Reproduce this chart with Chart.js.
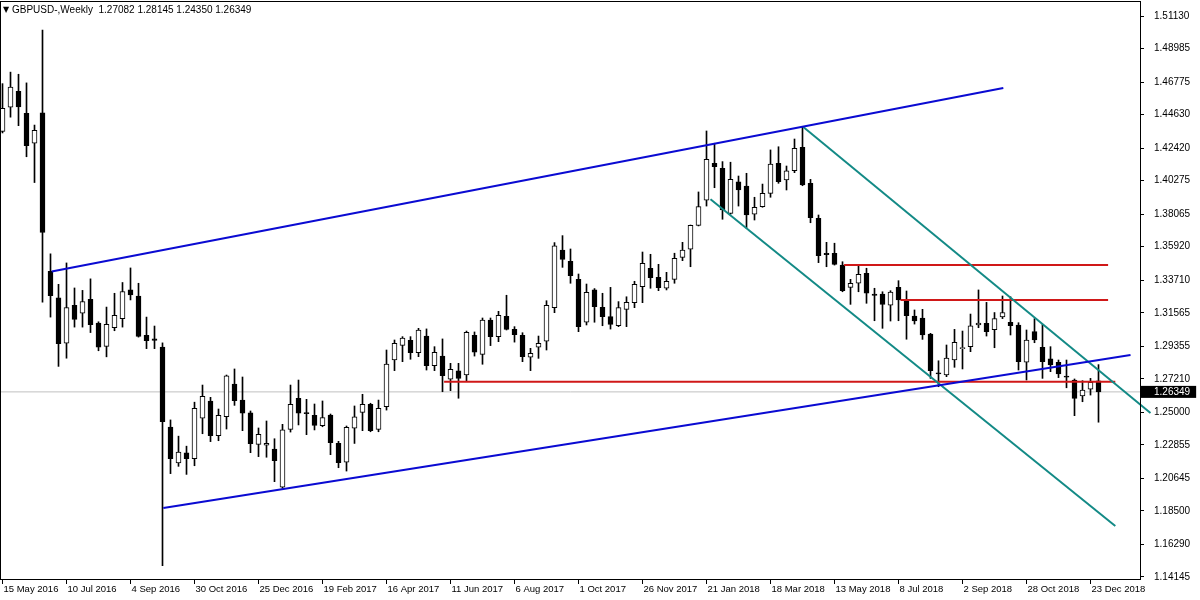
<!DOCTYPE html>
<html>
<head>
<meta charset="utf-8">
<script src="https://cdn.jsdelivr.net/npm/chart.js@4.4.1/dist/chart.umd.min.js"></script>
<style>
  html, body { margin: 0; padding: 0; background: #fff; }
  #wrap { position: relative; width: 1200px; height: 600px; }
  #header { position: absolute; left: 12px; top: 4px; font: 10px "Liberation Sans", Arial, sans-serif; color: #000; white-space: pre; }
  #tri { position: absolute; left: 3px; top: 5px; font: 8px "DejaVu Sans", sans-serif; color: #000; }
</style>
</head>
<body>
<div id="wrap">
  <canvas id="priceChart" width="1200" height="600"></canvas>
  <div id="tri">▼</div>
  <div id="header">GBPUSD-,Weekly  1.27082 1.28145 1.24350 1.26349</div>
</div>
<script>
// weekly bars, first one is week of 15 May 2016
const openP = [
  1.4352, 1.4512, 1.4616, 1.4472, 1.4274, 1.4474, 1.3429, 1.3255, 1.2956, 1.3205,
  1.3154, 1.3245, 1.3088, 1.2935, 1.3059, 1.3118, 1.3307, 1.3266, 1.3007, 1.2984,
  1.2930, 1.2403, 1.2167, 1.2233, 1.2195, 1.2461, 1.2575, 1.2346, 1.2471, 1.2687,
  1.2581, 1.2496, 1.2289, 1.2283, 1.2258, 1.2006, 1.2388, 1.2592, 1.2498, 1.2480,
  1.2412, 1.2482, 1.2296, 1.2171, 1.2395, 1.2500, 1.2553, 1.2388, 1.2537, 1.2845,
  1.2942, 1.2975, 1.2893, 1.3003, 1.2808, 1.2871, 1.2718, 1.2773, 1.2746, 1.3008,
  1.2882, 1.3109, 1.2999, 1.3133, 1.3047, 1.3008, 1.2863, 1.2929, 1.2969, 1.3190,
  1.3570, 1.3496, 1.3377, 1.3094, 1.3307, 1.3193, 1.3131, 1.3071, 1.3179, 1.3223,
  1.3328, 1.3450, 1.3390, 1.3318, 1.3377, 1.3522, 1.3575, 1.3733, 1.3898, 1.4142,
  1.4109, 1.3812, 1.4019, 1.3992, 1.3806, 1.3856, 1.3944, 1.4142, 1.4032, 1.4093,
  1.4247, 1.4010, 1.3779, 1.3549, 1.3549, 1.3471, 1.3324, 1.3351, 1.3417, 1.3280,
  1.3280, 1.3206, 1.3324, 1.3241, 1.3135, 1.3122, 1.3016, 1.2761, 1.2746, 1.2845,
  1.2920, 1.2933, 1.3076, 1.3087, 1.3045, 1.3129, 1.3094, 1.3076, 1.2830, 1.3032,
  1.2929, 1.2852, 1.2830, 1.2738, 1.2713, 1.2608, 1.2652, 1.27082
];
const highP = [
  1.4667, 1.4743, 1.4729, 1.4672, 1.4394, 1.5021, 1.3545, 1.3344, 1.3485, 1.3320,
  1.3304, 1.3380, 1.3097, 1.3194, 1.3285, 1.3356, 1.3452, 1.3351, 1.3128, 1.3069,
  1.2958, 1.2450, 1.2343, 1.2277, 1.2567, 1.2680, 1.2599, 1.2522, 1.2746, 1.2786,
  1.2733, 1.2509, 1.2397, 1.2443, 1.2326, 1.2421, 1.2680, 1.2713, 1.2586, 1.2555,
  1.2575, 1.2489, 1.2309, 1.2410, 1.2542, 1.2619, 1.2560, 1.2581, 1.2911, 1.2977,
  1.2999, 1.2999, 1.3054, 1.3050, 1.2933, 1.2984, 1.2823, 1.2823, 1.3036, 1.3030,
  1.3122, 1.3122, 1.3166, 1.3272, 1.3065, 1.3025, 1.2922, 1.3003, 1.3236, 1.3619,
  1.3665, 1.3577, 1.3412, 1.3346, 1.3316, 1.3285, 1.3324, 1.3230, 1.3262, 1.3364,
  1.3557, 1.3542, 1.3476, 1.3423, 1.3549, 1.3621, 1.3735, 1.3953, 1.4355, 1.4274,
  1.4153, 1.4149, 1.4058, 1.4076, 1.3918, 1.4005, 1.4230, 1.4251, 1.4124, 1.4302,
  1.4383, 1.4036, 1.3801, 1.3621, 1.3615, 1.3493, 1.3377, 1.3465, 1.3450, 1.3318,
  1.3295, 1.3302, 1.3368, 1.3300, 1.3175, 1.3179, 1.3021, 1.2840, 1.2944, 1.3047,
  1.3036, 1.3148, 1.3307, 1.3225, 1.3158, 1.3267, 1.3262, 1.3091, 1.3043, 1.3118,
  1.3080, 1.2933, 1.2845, 1.2845, 1.2720, 1.2709, 1.2724, 1.28145
];
const lowP = [
  1.4342, 1.4446, 1.4390, 1.4185, 1.4015, 1.3227, 1.3128, 1.2803, 1.2857, 1.3062,
  1.3062, 1.3026, 1.2906, 1.2866, 1.3038, 1.3062, 1.3241, 1.2996, 1.2920, 1.2920,
  1.1489, 1.2096, 1.2144, 1.2091, 1.2148, 1.2359, 1.2307, 1.2313, 1.2390, 1.2546,
  1.2379, 1.2234, 1.2208, 1.2204, 1.2043, 1.1999, 1.2370, 1.2417, 1.2353, 1.2384,
  1.2405, 1.2221, 1.2135, 1.2113, 1.2295, 1.2379, 1.2372, 1.2372, 1.2515, 1.2775,
  1.2834, 1.2850, 1.2867, 1.2779, 1.2775, 1.2636, 1.2643, 1.2593, 1.2709, 1.2871,
  1.2817, 1.2940, 1.2966, 1.3043, 1.2963, 1.2834, 1.2775, 1.2856, 1.2911, 1.3157,
  1.3456, 1.3351, 1.3032, 1.3076, 1.3094, 1.3071, 1.3049, 1.3065, 1.3065, 1.3190,
  1.3223, 1.3318, 1.3302, 1.3307, 1.3351, 1.3500, 1.3460, 1.3729, 1.3860, 1.3981,
  1.3773, 1.3806, 1.3860, 1.3713, 1.3768, 1.3852, 1.3918, 1.4010, 1.3966, 1.4080,
  1.3994, 1.3750, 1.3487, 1.3460, 1.3471, 1.3295, 1.3212, 1.3295, 1.3219, 1.3104,
  1.3054, 1.3102, 1.3104, 1.2982, 1.3082, 1.2981, 1.2724, 1.2669, 1.2735, 1.2797,
  1.2786, 1.2900, 1.3058, 1.3003, 1.2926, 1.3118, 1.3010, 1.2779, 1.2713, 1.2959,
  1.2724, 1.2768, 1.2729, 1.2662, 1.2478, 1.2570, 1.2614, 1.24350
];
const closeP = [
  1.4505, 1.4644, 1.4514, 1.4258, 1.4359, 1.3686, 1.3269, 1.2953, 1.3191, 1.3113,
  1.3231, 1.3078, 1.2930, 1.3080, 1.3139, 1.3297, 1.3274, 1.3001, 1.2972, 1.2975,
  1.2438, 1.2195, 1.2238, 1.2195, 1.2527, 1.2606, 1.2346, 1.2480, 1.2740, 1.2577,
  1.2494, 1.2293, 1.2355, 1.2296, 1.2181, 1.2384, 1.2553, 1.2494, 1.2491, 1.2414,
  1.2465, 1.2300, 1.2168, 1.2401, 1.2471, 1.2553, 1.2379, 1.2527, 1.2819, 1.2955,
  1.2990, 1.2893, 1.3043, 1.2808, 1.2896, 1.2742, 1.2784, 1.2724, 1.3028, 1.2896,
  1.3109, 1.2999, 1.3140, 1.3047, 1.3012, 1.2867, 1.2889, 1.2955, 1.3206, 1.3597,
  1.3509, 1.3401, 1.3065, 1.3291, 1.3196, 1.3131, 1.3080, 1.3190, 1.3225, 1.3344,
  1.3483, 1.3388, 1.3322, 1.3364, 1.3516, 1.3570, 1.3733, 1.3856, 1.4168, 1.4120,
  1.3834, 1.4036, 1.3966, 1.3801, 1.3852, 1.3944, 1.4137, 1.4021, 1.4093, 1.4241,
  1.3999, 1.3783, 1.3533, 1.3540, 1.3476, 1.3302, 1.3351, 1.3410, 1.3285, 1.3271,
  1.3212, 1.3293, 1.3241, 1.3137, 1.3102, 1.3010, 1.2775, 1.2753, 1.2858, 1.2962,
  1.2925, 1.3071, 1.3089, 1.3032, 1.3118, 1.3158, 1.3071, 1.2834, 1.2977, 1.2977,
  1.2834, 1.2812, 1.2753, 1.2732, 1.2592, 1.2647, 1.2698, 1.26349
];

// one time label every 8 bars
const xLabels = ['15 May 2016', '10 Jul 2016', '4 Sep 2016', '30 Oct 2016', '25 Dec 2016',
  '19 Feb 2017', '16 Apr 2017', '11 Jun 2017', '6 Aug 2017', '1 Oct 2017', '26 Nov 2017',
  '21 Jan 2018', '18 Mar 2018', '13 May 2018', '8 Jul 2018', '2 Sep 2018', '28 Oct 2018',
  '23 Dec 2018'];
const yLabels = [1.51130, 1.48985, 1.46775, 1.44630, 1.42420, 1.40275, 1.38065, 1.35920,
  1.33710, 1.31565, 1.29355, 1.27210, 1.25000, 1.22855, 1.20645, 1.18500, 1.16290, 1.14145];
const lastClose = 1.26349;

// drawn objects: [bar index, price] end points
const blueUpper = [[6.15, 1.3429], [125.1, 1.4638]];
const blueLower = [[20.1, 1.1869], [141.0, 1.2878]];
const tealUpper = [[100.1, 1.4381], [143.5, 1.2496]];
const tealLower = [[88.5, 1.3905], [139.1, 1.1751]];
const redLow = [[55.2, 1.2702], [139.1, 1.2702]];
const redMid = [[112.25, 1.3241], [138.2, 1.3241]];
const redHigh = [[105.2, 1.3471], [138.2, 1.3471]];

const toXY = (pts) => pts.map(p => ({x: p[0], y: p[1]}));

var wicks = [], bullBodies = [], bearBodies = [];
for (let i = 0; i < openP.length; i++) {
    wicks.push({x: i, y: [lowP[i], highP[i]]});
    if (closeP[i] >= openP[i]) {
        bullBodies.push({x: i, y: [openP[i], closeP[i]]});
    } else {
        bearBodies.push({x: i, y: [closeP[i], openP[i]]});
    }
}

function trend(pts, color, width, extra) {
    return Object.assign({
        type: 'line',
        data: toXY(pts),
        borderColor: color,
        borderWidth: width,
        pointRadius: 0,
        fill: false,
        tension: 0,
        order: 0
    }, extra || {});
}

// black frame round the plot like the terminal draws it
const framePlugin = {
    id: 'frame',
    afterDraw(chart) {
        const {ctx, chartArea: a} = chart;
        ctx.save();
        ctx.strokeStyle = '#000';
        ctx.lineWidth = 1;
        ctx.strokeRect(a.left - 0.5, a.top - 0.5, a.right - a.left + 1, a.bottom - a.top + 1);
        ctx.restore();
    }
};

const ctx1 = document.getElementById('priceChart').getContext('2d');
var priceChart = new Chart(ctx1, {
    type: 'bar',
    data: {
        datasets: [
            trend(blueUpper, '#0a0ad2', 2),
            trend(blueLower, '#0a0ad2', 2),
            trend(tealUpper, '#138a86', 2, {clip: {left: 0, top: 0, right: 12, bottom: 0}}),
            trend(tealLower, '#138a86', 2),
            trend(redLow, '#d01818', 2),
            trend(redMid, '#d01818', 2),
            trend(redHigh, '#d01818', 2),
            {
                type: 'bar',
                data: bullBodies,
                backgroundColor: '#fff',
                borderColor: '#000',
                borderWidth: 1,
                borderSkipped: false,
                barThickness: 5,
                minBarLength: 1,
                grouped: false,
                order: 2
            },
            {
                type: 'bar',
                data: bearBodies,
                backgroundColor: '#000',
                borderColor: '#000',
                borderWidth: 1,
                borderSkipped: false,
                barThickness: 5,
                minBarLength: 1,
                grouped: false,
                order: 2
            },
            {
                type: 'bar',
                data: wicks,
                backgroundColor: '#000',
                borderWidth: 0,
                barThickness: 1,
                grouped: false,
                order: 3
            },
            trend([[-1, lastClose], [143, lastClose]], '#c0c0c0', 1, {order: 10})
        ]
    },
    options: {
        responsive: false,
        animation: false,
        events: [],
        layout: {
            padding: {top: 2, left: 1, right: 0, bottom: 0}
        },
        plugins: {
            legend: {display: false},
            tooltip: {enabled: false}
        },
        scales: {
            x: {
                type: 'linear',
                offset: false,
                min: -0.1875,
                max: 142.1875,
                afterFit: (scale) => {
                    scale.height = 21;
                    scale.paddingLeft = 0;
                    scale.paddingRight = 0;
                },
                afterBuildTicks: (scale) => {
                    scale.ticks = xLabels.map((_, k) => ({value: k * 8}));
                },
                grid: {
                    offset: false,
                    drawOnChartArea: false,
                    tickLength: 5,
                    color: '#000'
                },
                border: {display: false},
                ticks: {
                    autoSkip: false,
                    maxRotation: 0,
                    minRotation: 0,
                    align: 'start',
                    labelOffset: 1,
                    padding: 0,
                    color: '#000',
                    font: {family: 'Liberation Sans', size: 9.5},
                    callback: (v, idx) => xLabels[idx]
                }
            },
            y: {
                type: 'linear',
                position: 'right',
                min: 1.14013,
                max: 1.52053,
                afterFit: (scale) => {
                    scale.width = 60;
                    scale.paddingTop = 0;
                    scale.paddingBottom = 0;
                },
                afterBuildTicks: (scale) => {
                    scale.ticks = yLabels.concat([lastClose]).map(v => ({value: v}));
                },
                grid: {
                    offset: false,
                    drawOnChartArea: false,
                    tickLength: 4,
                    color: '#000'
                },
                border: {display: false},
                ticks: {
                    autoSkip: false,
                    padding: 10,
                    font: {family: 'Liberation Sans', size: 10},
                    color: (c) => (c.tick && c.tick.value === lastClose) ? '#fff' : '#000',
                    showLabelBackdrop: (c) => !!(c.tick && c.tick.value === lastClose),
                    backdropColor: '#000',
                    backdropPadding: {top: 0, bottom: 0, left: 13, right: 6},
                    callback: (v) => v.toFixed(5)
                }
            }
        }
    },
    plugins: [framePlugin]
});
</script>
</body>
</html>
